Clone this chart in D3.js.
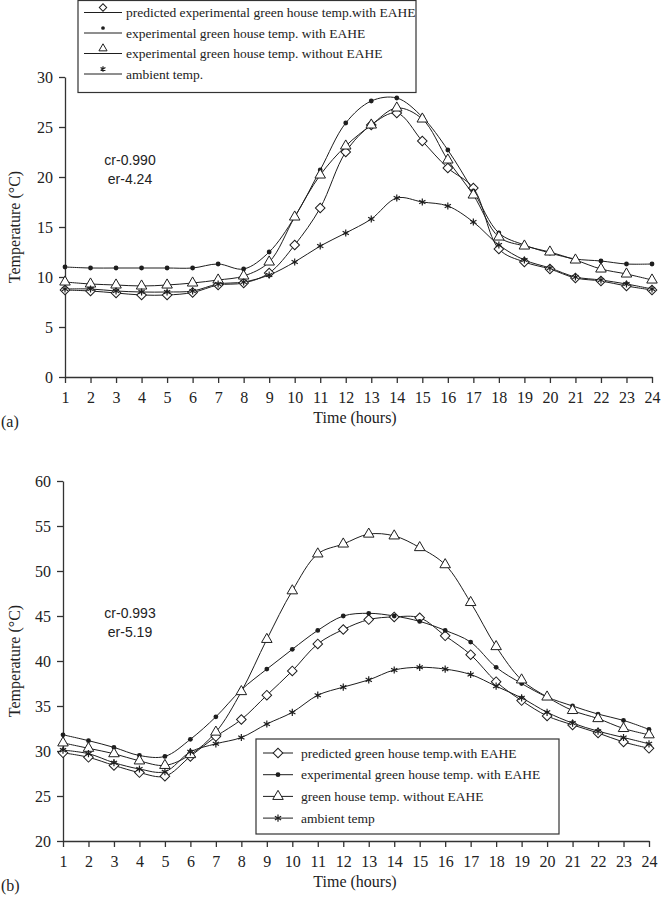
<!DOCTYPE html>
<html>
<head>
<meta charset="utf-8">
<script src="https://cdn.jsdelivr.net/npm/d3@7"></script>
<style>
  body { margin: 0; background: #fff; }
  svg { display: block; }
  .lbl { font-family: "Liberation Serif", "Times New Roman", serif; fill: #222; }
  .note { font-family: "Liberation Sans", Arial, sans-serif; font-size: 14px; fill: #222; }
</style>
</head>
<body>
<svg id="chart" width="663" height="900"></svg>
<script>
// hours on the x axis
const hours = d3.range(1, 25);

// panel (a) values, deg C
const aPredicted = [8.7, 8.6, 8.4, 8.2, 8.2, 8.45, 9.2, 9.4, 10.4, 13.2, 16.9, 22.5, 25.2, 26.4, 23.6, 20.9, 18.9, 12.8, 11.5, 10.8, 9.9, 9.6, 9.1, 8.7];
const aWithEahe = [11.0, 10.9, 10.9, 10.9, 10.9, 10.9, 11.3, 10.8, 12.5, 16.0, 20.7, 25.4, 27.6, 27.9, 26.0, 22.7, 18.6, 14.4, 13.2, 12.4, 11.8, 11.6, 11.3, 11.3];
const aWithout = [9.5, 9.3, 9.2, 9.1, 9.2, 9.4, 9.7, 10.1, 11.5, 16.0, 20.2, 23.1, 25.2, 26.9, 25.8, 21.7, 18.2, 14.0, 13.1, 12.5, 11.7, 10.8, 10.3, 9.7];
const aAmbient = [8.8, 8.8, 8.6, 8.5, 8.5, 8.6, 9.3, 9.5, 10.2, 11.5, 13.1, 14.4, 15.8, 17.9, 17.5, 17.1, 15.5, 13.2, 11.7, 10.9, 10.0, 9.7, 9.3, 8.8];
const aLabels = ['predicted experimental green house temp.with EAHE', 'experimental green house temp. with EAHE',
  'experimental green house temp. without EAHE', 'ambient temp.'];
const aTicks = [0, 5, 10, 15, 20, 25, 30];

// panel (b) values, deg C
const bPredicted = [29.8, 29.3, 28.4, 27.6, 27.2, 29.4, 31.6, 33.5, 36.2, 38.9, 41.9, 43.5, 44.6, 44.9, 44.8, 42.8, 40.7, 37.7, 35.6, 33.9, 32.9, 32.0, 31.0, 30.3];
const bWithEahe = [31.8, 31.15, 30.4, 29.5, 29.4, 31.3, 33.8, 36.8, 39.1, 41.3, 43.4, 45.0, 45.3, 45.0, 44.4, 43.4, 42.1, 39.3, 37.5, 36.0, 35.0, 34.1, 33.4, 32.4];
const bWithout = [30.9, 30.3, 29.7, 28.9, 28.4, 29.6, 32.1, 36.6, 42.4, 47.8, 51.9, 53.0, 54.1, 53.9, 52.6, 50.7, 46.5, 41.6, 37.9, 36.0, 34.5, 33.6, 32.5, 31.8];
const bAmbient = [30.1, 29.7, 28.7, 28.0, 27.7, 29.9, 30.8, 31.5, 33.0, 34.3, 36.2, 37.1, 37.9, 39.0, 39.3, 39.1, 38.5, 37.2, 35.9, 34.3, 33.1, 32.2, 31.5, 30.8];
const bLabels = ['predicted green house temp.with EAHE', 'experimental green house temp. with EAHE',
  'green house temp. without EAHE', 'ambient temp'];
const bTicks = [20, 25, 30, 35, 40, 45, 50, 55, 60];

const markers = ['diamond', 'dot', 'triangle', 'star'];
const ink = '#1e1e1e';
const serif = '"Liberation Serif", "Times New Roman", serif';
const svg = d3.select('#chart');

// draw one marker shape at (0,0) inside group g, s scales it
function marker(g, kind, s = 1) {
  if (kind === 'diamond') {
    g.append('path').attr('d', d3.symbol(d3.symbolSquare, 46 * s)())
      .attr('transform', 'rotate(45)').attr('fill', '#fff').attr('stroke', ink).attr('stroke-width', 1);
  } else if (kind === 'dot') {
    g.append('circle').attr('r', 2.4 * Math.sqrt(s)).attr('fill', ink);
  } else if (kind === 'triangle') {
    g.append('path').attr('d', d3.symbol(d3.symbolTriangle, 48 * s)())
      .attr('fill', '#fff').attr('stroke', ink).attr('stroke-width', 1);
  } else {
    g.append('path').attr('d', d3.symbol(d3.symbolAsterisk, 36 * s)())
      .attr('fill', 'none').attr('stroke', ink).attr('stroke-width', 1.2);
  }
}

function panel(cfg) {
  const x = d3.scaleLinear().domain([1, 24]).range(cfg.xr);
  const y = d3.scaleLinear().domain(d3.extent(cfg.yticks)).range(cfg.yr);
  const g = svg.append('g');

  const yAxis = g.append('g').attr('transform', `translate(${cfg.xr[0]},0)`)
    .call(d3.axisLeft(y).tickValues(cfg.yticks).tickSize(6).tickSizeOuter(0).tickPadding(6));
  const xAxis = g.append('g').attr('transform', `translate(0,${cfg.yr[0]})`)
    .call(d3.axisBottom(x).tickValues(hours).tickSize(6).tickSizeOuter(0).tickPadding(9));
  [yAxis, xAxis].forEach(a => {
    a.attr('font-family', serif).attr('font-size', 16);
    a.select('.domain').attr('stroke', '#333').attr('stroke-width', 1.3);
    a.selectAll('.tick line').attr('stroke', '#333').attr('stroke-width', 1.3);
    a.selectAll('.tick text').attr('fill', '#222');
  });

  const line = d3.line().x((d, i) => x(hours[i])).y(d => y(d)).curve(d3.curveCatmullRom.alpha(0.5));
  cfg.series.forEach(s => {
    g.append('path').datum(s).attr('d', line).attr('fill', 'none').attr('stroke', ink).attr('stroke-width', 1);
  });
  cfg.series.forEach((s, k) => {
    s.forEach((v, i) => {
      marker(g.append('g').attr('transform', `translate(${x(hours[i])},${y(v)})`), markers[k]);
    });
  });

  // axis titles
  const ymid = (cfg.yr[0] + cfg.yr[1]) / 2;
  g.append('text').attr('class', 'lbl').attr('font-size', 16).attr('text-anchor', 'middle')
    .attr('transform', `translate(20,${ymid}) rotate(-90)`).text('Temperature (°C)');
  g.append('text').attr('class', 'lbl').attr('font-size', 16).attr('text-anchor', 'middle')
    .attr('x', 355).attr('y', cfg.yr[0] + 46).text('Time (hours)');
  g.append('text').attr('class', 'lbl').attr('font-size', 16)
    .attr('x', 1).attr('y', cfg.yr[0] + 50).text(cfg.tag);

  // correlation / error notes
  g.append('text').attr('class', 'note').attr('text-anchor', 'middle')
    .attr('x', 130).attr('y', cfg.noteY).text(cfg.notes[0]);
  g.append('text').attr('class', 'note').attr('text-anchor', 'middle')
    .attr('x', 130).attr('y', cfg.noteY + 19).text(cfg.notes[1]);

  // legend
  const L = cfg.legend;
  g.append('rect').attr('x', L.x).attr('y', L.y).attr('width', L.w).attr('height', L.h)
    .attr('fill', '#fff').attr('stroke', '#333').attr('stroke-width', 1.2);
  cfg.labels.forEach((t, k) => {
    const ry = L.y + L.row0 + k * L.dy;
    g.append('line').attr('x1', L.lx[0]).attr('x2', L.lx[1]).attr('y1', ry + L.lineOff).attr('y2', ry + L.lineOff)
      .attr('stroke', ink).attr('stroke-width', 1);
    marker(g.append('g').attr('transform', `translate(${(L.lx[0] + L.lx[1]) / 2},${ry})`), markers[k], L.ms);
    g.append('text').attr('class', 'lbl').attr('font-size', L.fs)
      .attr('x', L.tx).attr('y', ry + L.lineOff + 4.5).text(t);
  });
}

panel({
  xr: [65, 652], yr: [377, 77], yticks: aTicks, tag: '(a)',
  series: [aPredicted, aWithEahe, aWithout, aAmbient], labels: aLabels,
  notes: ['cr-0.990', 'er-4.24'], noteY: 165,
  legend: { x: 78, y: 0.5, w: 338, h: 92, row0: 7, dy: 20.5, lineOff: 5, lx: [84, 122], tx: 126, fs: 13.5, ms: 0.6 }
});

panel({
  xr: [63, 649], yr: [841, 481], yticks: bTicks, tag: '(b)',
  series: [bPredicted, bWithEahe, bWithout, bAmbient], labels: bLabels,
  notes: ['cr-0.993', 'er-5.19'], noteY: 618,
  legend: { x: 256, y: 739, w: 303, h: 95, row0: 14, dy: 21.7, lineOff: 0, lx: [263, 293], tx: 301, fs: 13.5, ms: 1 }
});
</script>
</body>
</html>
